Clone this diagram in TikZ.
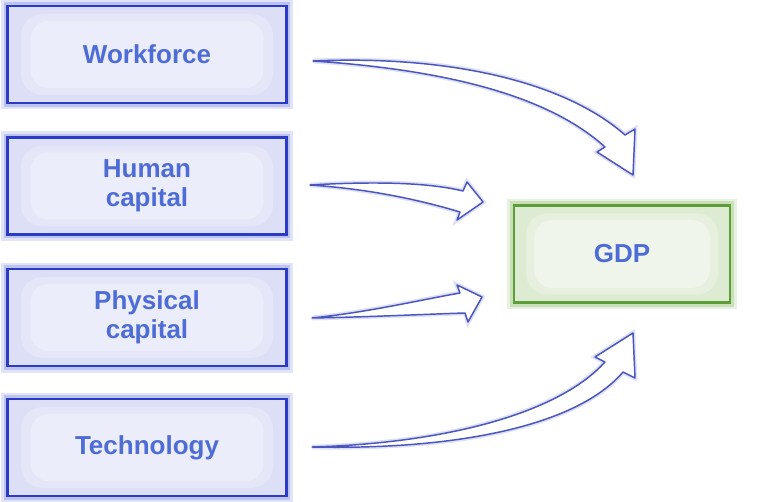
\documentclass[tikz,border=0pt]{standalone}
\usepackage{fontspec}
\setmainfont{Liberation Sans}
\begin{document}
\begin{tikzpicture}[x=0.75pt,y=-0.75pt,
  boxbase/.style={rectangle, minimum width=209pt, minimum height=72.5pt, inner sep=0pt,
    font=\fontsize{19.5}{21.5}\selectfont\bfseries, text=txtblue, align=center},
  bluebox/.style={boxbase, draw=edgeblue, line width=1.9pt, fill=fillblue,
    preaction={draw=glowblue!45, line width=10pt},
    preaction={draw=glowblue, line width=6pt},
    path picture={
      \fill[midblue, rounded corners=16pt]
        ([shift={(10pt,6pt)}]path picture bounding box.south west) rectangle
        ([shift={(-10pt,-6pt)}]path picture bounding box.north east);
      \fill[innerblue, rounded corners=14pt]
        ([shift={(17pt,11pt)}]path picture bounding box.south west) rectangle
        ([shift={(-17pt,-11pt)}]path picture bounding box.north east);}},
  greenbox/.style={boxbase, minimum width=162pt, minimum height=73pt, draw=edgegreen, line width=1.9pt, fill=fillgreen,
    preaction={draw=glowgreen!45, line width=10pt},
    preaction={draw=glowgreen, line width=6pt},
    path picture={
      \fill[midgreen, rounded corners=16pt]
        ([shift={(9pt,6pt)}]path picture bounding box.south west) rectangle
        ([shift={(-9pt,-6pt)}]path picture bounding box.north east);
      \fill[innergreen, rounded corners=14pt]
        ([shift={(15pt,11pt)}]path picture bounding box.south west) rectangle
        ([shift={(-15pt,-11pt)}]path picture bounding box.north east);}},
  hollowarrow/.style={fill=white, draw=arrowblue, line width=1.1pt, line join=round,
    preaction={draw=arrowglow, line width=3.5pt}}
]
\definecolor{edgeblue}{HTML}{2B3CC2}
\definecolor{fillblue}{HTML}{DCDFF6}
\definecolor{midblue}{HTML}{E5E7F8}
\definecolor{innerblue}{HTML}{ECEDFA}
\definecolor{glowblue}{HTML}{BCC3F0}
\definecolor{txtblue}{HTML}{4E6CD6}
\definecolor{edgegreen}{HTML}{5E9E38}
\definecolor{fillgreen}{HTML}{DDEBD2}
\definecolor{midgreen}{HTML}{E7F0DF}
\definecolor{innergreen}{HTML}{EFF5EA}
\definecolor{glowgreen}{HTML}{C9E0B8}
\definecolor{arrowblue}{HTML}{4A55BE}
\definecolor{arrowglow}{HTML}{DDE0F5}

\useasboundingbox (0,0) rectangle (759,502);
\fill[white] (0,0) rectangle (759,502);

\node[bluebox] (wf) at (147,54.5) {Workforce};
\node[bluebox] (hc) at (147,186) {Human\\capital};
\node[bluebox] (pc) at (147,317.5) {Physical\\capital};
\node[bluebox] (te) at (147,447.5) {Technology};
\node[greenbox] (gdp) at (622,254) {GDP};

\coordinate (a1s) at (313,61);
\coordinate (a2s) at (310,185);
\coordinate (a3s) at (312,318);
\coordinate (a4s) at (312,447);

\draw[hollowarrow] (a1s) .. controls (450,55) and (565,82) .. (625,135) -- (635,129) -- (633,175)
  -- (597,152) -- (605,147) .. controls (550,97) and (450,70) .. (a1s) -- cycle;
\draw[hollowarrow] (a2s) .. controls (380,181) and (430,183) .. (463,191) -- (467,182) -- (483,202)
  -- (457,220) -- (460,212) .. controls (420,200) and (370,189) .. (a2s) -- cycle;
\draw[hollowarrow] (a3s) .. controls (370,312) and (420,300) .. (460,293) -- (457,285) -- (482,297)
  -- (468,322) -- (465,313) .. controls (430,314) and (370,317) .. (a3s) -- cycle;
\draw[hollowarrow] (a4s) .. controls (450,443) and (560,412) .. (605,362) -- (595,357) -- (633,333)
  -- (635,378) -- (623,372) .. controls (575,428) and (450,450) .. (a4s) -- cycle;
\end{tikzpicture}
\end{document}
